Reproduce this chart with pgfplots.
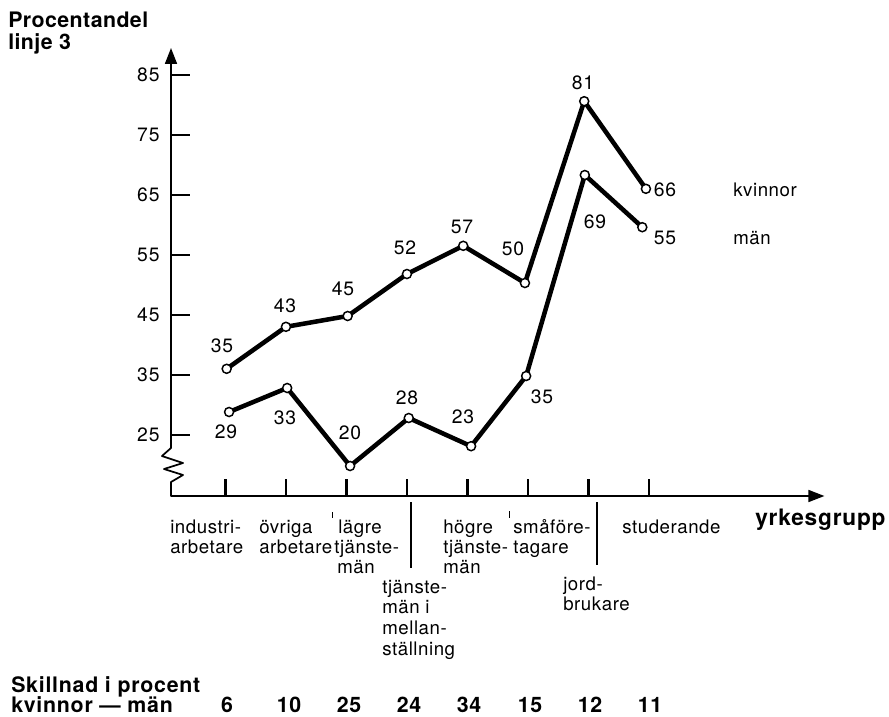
\documentclass[border=0pt]{standalone}
\usepackage{fontspec}
\setmainfont{TeX Gyre Heros}
\newfontfamily\ws[LetterSpace=3]{TeX Gyre Heros}
\newfontfamily\wn[LetterSpace=5]{TeX Gyre Heros}
\newfontfamily\wb[LetterSpace=3.5]{TeX Gyre Heros}
\newfontfamily\wt[LetterSpace=2]{TeX Gyre Heros}
\usepackage{pgfplots}
\pgfplotsset{compat=1.18}
\usetikzlibrary{arrows.meta}

\newcommand\T[3]{\node[anchor=base west,inner sep=0pt,font=\fontsize{14}{15}\selectfont\ws] at (#1,#2) {#3};}
\newcommand\N[3]{\node[anchor=center,inner sep=0pt,font=\fontsize{14.5}{15}\selectfont\wn] at (#1,#2) {#3};}
\newcommand\B[3]{\node[anchor=base,inner sep=0pt,font=\fontsize{16}{16}\selectfont\wb\bfseries] at (#1,#2) {#3};}

\begin{document}
\begin{tikzpicture}
\begin{axis}[
  at={(128.25pt,-372pt)}, anchor=south west,
  scale only axis, width=490.05pt, height=336pt,
  xmin=0.1, xmax=10.9, ymin=14.8, ymax=89.47,
  clip=false,
  axis x line=bottom, axis y line=left,
  x axis line style={line width=1.3pt, -{Triangle[length=12pt,width=9pt]}},
  y axis line style={draw=none},
  xtick={1,...,8}, xticklabels={},
  ytick={25,35,...,85},
  major tick length=0pt,
  yticklabel style={font=\fontsize{14.5}{15}\selectfont\wn, xshift=-5pt},
  /pgf/number format/assume math mode=true,
]
% kvinnor
\addplot[line width=3.4pt, black, mark=*, mark size=3.4pt,
  mark options={fill=white, draw=black, line width=1.1pt, solid}]
  coordinates {(1.02,36) (2.00,43) (3.02,44.8) (4.00,51.8) (4.93,56.5) (5.95,50.3) (6.93,80.6) (7.95,66)};
% män
\addplot[line width=3.4pt, black, mark=*, mark size=3.4pt,
  mark options={fill=white, draw=black, line width=1.1pt, solid}]
  coordinates {(1.06,28.8) (2.02,32.8) (3.06,19.8) (4.03,27.8) (5.06,23.1) (5.97,34.8) (6.94,68.3) (7.89,59.6)};
\end{axis}
\begin{scope}[x=0.75pt,y=-0.75pt]
\path[use as bounding box] (0,0) rectangle (889,717);
% tick marks
\foreach \tx in {225.45,285.95,346.45,406.95,467.45,527.95,588.45,648.95}
  \draw[line width=1.6pt, black] (\tx,496) -- (\tx,479);
\foreach \ty in {434.8,374.8,314.8,254.8,194.8,134.8,74.8}
  \draw[line width=1.6pt, black] (171,\ty) -- (190,\ty);
% y axis with break
\draw[line width=1.3pt, line join=round, {Triangle[length=12pt,width=9pt]}-]
  (171,48) -- (171,448) -- (162,456) -- (183,463) -- (164,469) -- (183,475) -- (171,482) -- (171,496) -- (176,496);
% separators
\draw[line width=1pt] (411,502) -- (411,568);
\draw[line width=1pt] (597,502) -- (597,565);
\draw[line width=0.4pt] (332,512) -- (332,518);
\draw[line width=0.4pt] (509,511) -- (509,518);
% title
\node[anchor=base west,inner sep=0pt,font=\fontsize{16}{18}\selectfont\wt\bfseries] at (8,28) {Procentandel};
\node[anchor=base west,inner sep=0pt,font=\fontsize{16}{18}\selectfont\wt\bfseries] at (8,50) {linje 3};
% value labels kvinnor
\N{222}{346}{35}\N{285}{306}{43}\N{343}{289}{45}\N{405}{248}{52}
\N{462}{227}{57}\N{513}{249}{50}\N{583}{83}{81}\N{665}{190}{66}
% value labels män
\N{226}{432}{29}\N{285}{418}{33}\N{350}{433}{20}\N{407}{398}{28}
\N{463}{417}{23}\N{542}{397}{35}\N{595}{222}{69}\N{665}{238}{55}
% series names
\T{733}{196}{kvinnor}
\T{733}{244}{män}
% category labels
\T{170}{533}{industri-}\T{170}{553}{arbetare}
\T{259}{533}{övriga}\T{259}{553}{arbetare}
\T{338}{533}{lägre}\T{334}{553}{tjänste-}\T{337}{573}{män}
\T{382}{593}{tjänste-}\T{382}{613}{män i}\T{382}{634}{mellan-}\T{382}{655}{ställning}
\T{443}{533}{högre}\T{443}{553}{tjänste-}\T{443}{573}{män}
\T{513}{533}{småföre-}\T{513}{553}{tagare}
\T{563}{590}{jord-}\T{563}{610}{brukare}
\T{622}{533}{studerande}
\node[anchor=base west,inner sep=0pt,font=\fontsize{17}{18}\selectfont\wb\bfseries] at (755,525) {yrkesgrupp};
% bottom
\node[anchor=base west,inner sep=0pt,font=\fontsize{16}{16}\selectfont\wb\bfseries] at (11,692) {Skillnad i procent};
\node[anchor=base west,inner sep=0pt,font=\fontsize{16}{16}\selectfont\wb\bfseries] at (11,712) {kvinnor — män};
\B{227}{712}{6}\B{289}{712}{10}\B{349}{712}{25}\B{409}{712}{24}
\B{469}{712}{34}\B{530}{712}{15}\B{590}{712}{12}\B{650}{712}{11}
\end{scope}
\end{tikzpicture}
\end{document}
